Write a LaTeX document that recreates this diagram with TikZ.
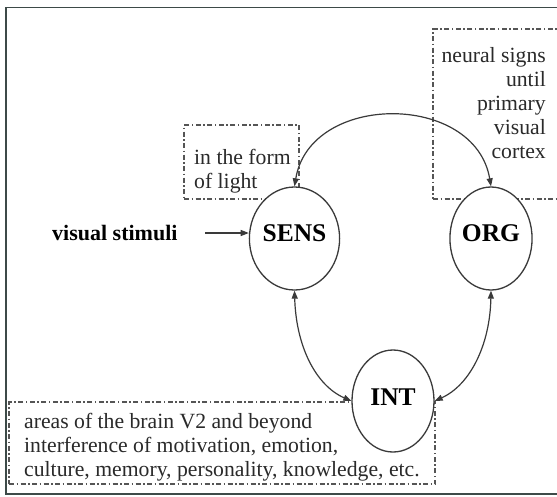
\documentclass[tikz,border=0pt]{standalone}
\usepackage{fontspec}
\setmainfont{Liberation Serif}
\usetikzlibrary{shapes.geometric,arrows.meta}
\definecolor{framecol}{HTML}{3D4A48}
\definecolor{linecol}{HTML}{3A3A3A}
\definecolor{dashcol}{HTML}{555555}
\definecolor{textcol}{HTML}{2A2A2A}
\tikzset{
  circ/.style={ellipse, draw=linecol, fill=white, line width=1.3pt, inner sep=0pt, text=black,
    font=\fontsize{25.5}{28}\selectfont\bfseries},
  dbox/.style={draw=dashcol, line width=1.2pt, dash pattern=on 5pt off 2.5pt on 1.5pt off 2.5pt, inner sep=0pt},
  txt/.style={inner sep=0pt, text=textcol, font=\fontsize{21.7}{24}\selectfont},
  conn/.style={draw=linecol, line width=1.2pt, {Triangle[length=8pt,width=6pt]}-{Triangle[length=8pt,width=6pt]}},
  oneway/.style={draw=linecol, line width=1.2pt, -{Triangle[length=8pt,width=6pt]}}
}
\begin{document}
\begin{tikzpicture}[x=1pt,y=-1pt]
\useasboundingbox (0,0) rectangle (557,496);
\clip (0,0) rectangle (557,496);
\fill[white] (0,0) rectangle (557,496);
\draw[framecol, line width=1.2pt] (6,7.5) rectangle (565,494);
% dash-dot boxes
\node[dbox, minimum width=115pt, minimum height=74pt] (lightbox) at (241.5,162) {};
\node[dbox, minimum width=130pt, minimum height=170pt] (neuralbox) at (498,114) {};
\node[dbox, minimum width=426pt, minimum height=82pt] (brainbox) at (222,443) {};
% texts
\node[txt, anchor=west, align=left] (lighttext) at (194,171) {in the form\\of light};
\node[txt, anchor=east, align=right] (neuraltext) at (546,103) {neural signs\\until\\primary\\visual\\cortex};
\node[txt, anchor=west, align=left] (braintext) at (24,447) {areas of the brain V2 and beyond\\interference of motivation, emotion,\\culture, memory, personality, knowledge, etc.};
\node[txt, anchor=west, text=black, font=\fontsize{22}{24}\selectfont\bfseries] (stimuli) at (52,233) {visual stimuli};
% ellipses
\node[circ, minimum width=83pt, minimum height=103pt, text depth=10pt] (SENS) at (294.5,238.5) {SENS};
\node[circ, minimum width=82pt, minimum height=103pt, text depth=10pt] (ORG) at (491,238.5) {ORG};
\node[circ, minimum width=82pt, minimum height=102pt, text depth=8pt] (INT) at (393,401) {INT};
% connectors
\coordinate (stimstart) at (205,233);
\draw[oneway] (stimstart) -- (stimstart -| SENS.west);
\draw[conn] (SENS.north) .. controls (310,92) and (475,92) .. (ORG.north);
\draw[conn] (SENS.south) .. controls (296,345) and (315,385) .. (INT.west);
\draw[conn] (ORG.south) .. controls (490,345) and (470,385) .. (INT.east);
\end{tikzpicture}
\end{document}
